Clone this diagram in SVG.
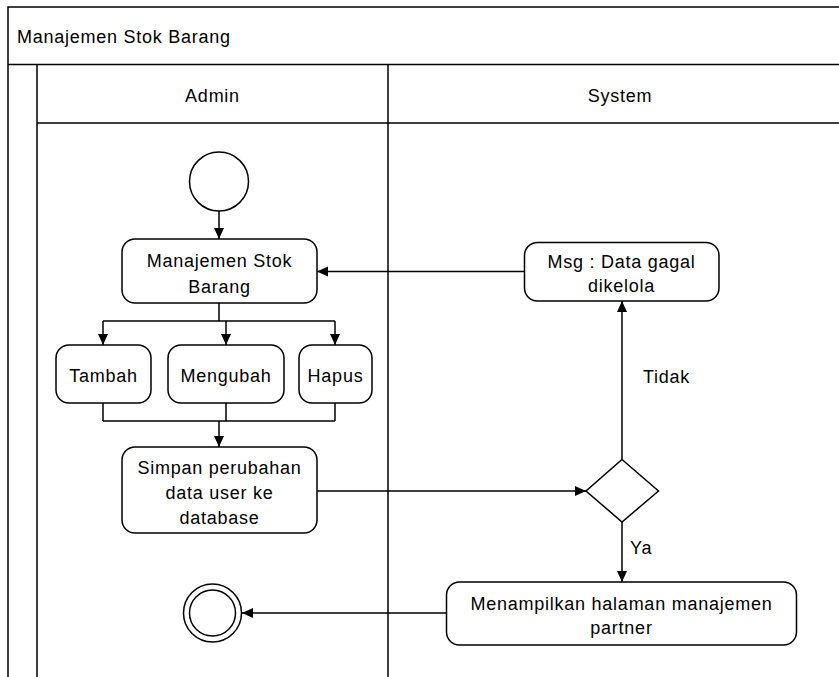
<svg xmlns="http://www.w3.org/2000/svg" width="839" height="677" viewBox="0 0 839 677">
<style>
text{font-family:"Liberation Sans",Arial,sans-serif;font-size:18px;letter-spacing:0.75px;fill:#000}
.c{text-anchor:middle}
.frame{fill:none;stroke:#000;stroke-width:1.5}
.box{fill:#fff;stroke:#000;stroke-width:1.5}
.edge{fill:none;stroke:#000;stroke-width:1.5}
</style>
<defs>
<marker id="ah" markerUnits="userSpaceOnUse" markerWidth="12" markerHeight="11" refX="11" refY="5" orient="auto">
<path d="M0,0 L11,5 L0,10 z" fill="#000"/>
</marker>
</defs>
<rect width="839" height="677" fill="#fff"/>
<g id="pool">
<path class="frame" d="M8,677 V7 H845 M8,64.5 H845 M37,677 V64.5 M37,123 H845 M388,677 V64.5"/>
<text x="17" y="43">Manajemen Stok Barang</text>
<text class="c" x="212.5" y="102">Admin</text>
<text class="c" x="620" y="102">System</text>
</g>
<g id="connectors">
<path class="edge" d="M219,211 V239" marker-end="url(#ah)"/>
<path class="edge" d="M219,303 V321 M103,321 H335"/>
<path class="edge" d="M103,321 V345" marker-end="url(#ah)"/>
<path class="edge" d="M226,321 V345" marker-end="url(#ah)"/>
<path class="edge" d="M335,321 V345" marker-end="url(#ah)"/>
<path class="edge" d="M103,403 V421 M226,403 V421 M335,403 V421 M103,421 H335"/>
<path class="edge" d="M219,421 V447" marker-end="url(#ah)"/>
<path class="edge" d="M317,491 H586" marker-end="url(#ah)"/>
<path class="edge" d="M622,459 V301" marker-end="url(#ah)"/>
<path class="edge" d="M524,271.5 H317" marker-end="url(#ah)"/>
<path class="edge" d="M622,522 V582" marker-end="url(#ah)"/>
<path class="edge" d="M446.5,613 H242" marker-end="url(#ah)"/>
<text x="643" y="383">Tidak</text>
<text x="630" y="554">Ya</text>
</g>
<g id="start">
<circle class="box" cx="219" cy="181.5" r="29.5"/>
</g>
<g id="manajemen">
<rect class="box" x="122" y="239" width="195" height="64" rx="13"/>
<text class="c" x="219.5" y="266.5">Manajemen Stok</text>
<text class="c" x="219.5" y="293">Barang</text>
</g>
<g id="tambah">
<rect class="box" x="56" y="345" width="95" height="58" rx="13"/>
<text class="c" x="103.5" y="382">Tambah</text>
</g>
<g id="mengubah">
<rect class="box" x="168" y="345" width="116" height="58" rx="13"/>
<text class="c" x="226" y="382">Mengubah</text>
</g>
<g id="hapus">
<rect class="box" x="299" y="345" width="73" height="58" rx="13"/>
<text class="c" x="335.5" y="382">Hapus</text>
</g>
<g id="simpan">
<rect class="box" x="122" y="447" width="195" height="86" rx="13"/>
<text class="c" x="219.5" y="474">Simpan perubahan</text>
<text class="c" x="219.5" y="499">data user ke</text>
<text class="c" x="219.5" y="524">database</text>
</g>
<g id="decision">
<path class="box" d="M622,459.5 L658.5,491 L622,522 L586,491 Z"/>
</g>
<g id="msg">
<rect class="box" x="524.5" y="242.5" width="194.5" height="58.5" rx="13"/>
<text class="c" x="621.5" y="267.5">Msg : Data gagal</text>
<text class="c" x="621.5" y="292">dikelola</text>
</g>
<g id="menampilkan">
<rect class="box" x="446.5" y="582" width="350" height="63" rx="13"/>
<text class="c" x="621.5" y="610">Menampilkan halaman manajemen</text>
<text class="c" x="621.5" y="634">partner</text>
</g>
<g id="end">
<circle class="box" cx="212.5" cy="613" r="29"/>
<circle class="box" cx="212.5" cy="613" r="23"/>
</g>
</svg>
